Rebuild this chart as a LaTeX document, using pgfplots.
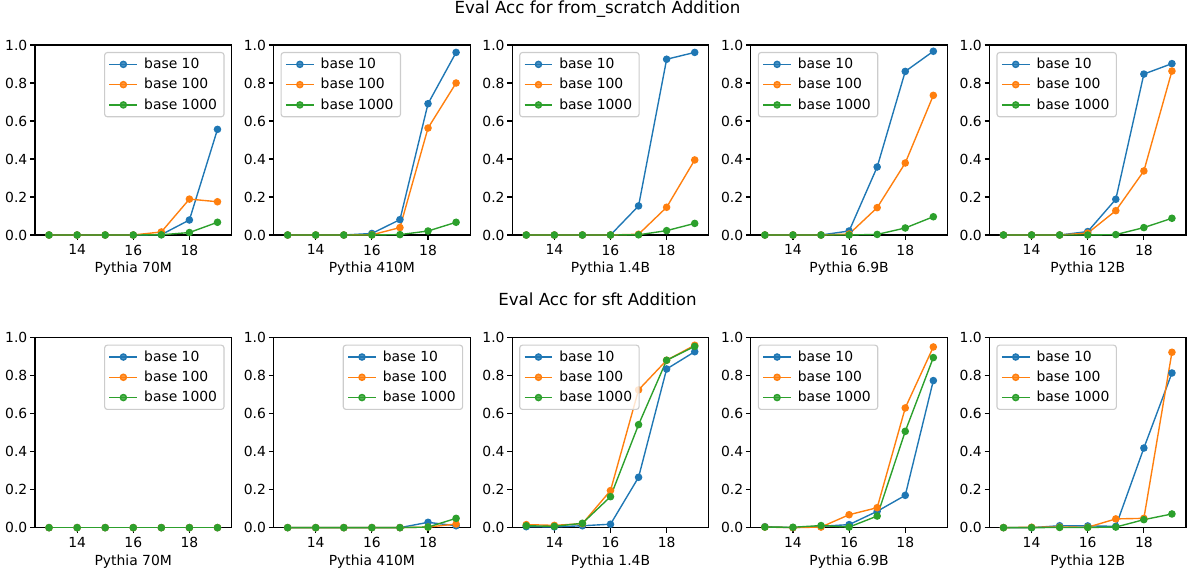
\documentclass[border=0pt]{standalone}
\usepackage{pgfplots}
\usepackage{pgfplotstable}
\pgfplotsset{compat=1.18}
\usepackage{fontspec}
\setmainfont{DejaVu Sans}
\definecolor{c1}{HTML}{1F77B4}
\definecolor{c2}{HTML}{FF7F0E}
\definecolor{c3}{HTML}{2CA02C}

% ---------- from_scratch ----------
\pgfplotstableread{
x b10 b100 b1000
13 0 0 0
14 0 0 0
15 0 0 0
16 0 0 0
17 0.002 0.016 0.001
18 0.079 0.189 0.013
19 0.556 0.175 0.067
}\tA
\pgfplotstableread{
x b10 b100 b1000
13 0 0 0
14 0 0 0
15 0 0 0
16 0.008 0.001 0
17 0.081 0.039 0.002
18 0.691 0.563 0.021
19 0.961 0.800 0.067
}\tB
\pgfplotstableread{
x b10 b100 b1000
13 0 0 0
14 0 0 0
15 0 0 0
16 0 0 0
17 0.153 0.004 0.001
18 0.925 0.146 0.023
19 0.961 0.395 0.061
}\tC
\pgfplotstableread{
x b10 b100 b1000
13 0 0 0
14 0 0 0
15 0 0 0
16 0.021 0.005 0
17 0.358 0.144 0.003
18 0.861 0.379 0.037
19 0.967 0.735 0.096
}\tD
\pgfplotstableread{
x b10 b100 b1000
13 0 0 0
14 0 0 0
15 0 0 0
16 0.018 0.010 0
17 0.188 0.128 0.002
18 0.847 0.337 0.039
19 0.902 0.863 0.088
}\tE
% ---------- sft ----------
\pgfplotstableread{
x b10 b100 b1000
13 0 0 0
14 0 0 0
15 0 0 0
16 0 0 0
17 0 0 0
18 0 0 0
19 0 0 0
}\tF
\pgfplotstableread{
x b10 b100 b1000
13 0 0 0
14 0 0 0
15 0 0 0
16 0 0 0
17 0 0 0
18 0.028 0.003 0.003
19 0.010 0.019 0.049
}\tG
\pgfplotstableread{
x b10 b100 b1000
13 0.005 0.016 0.010
14 0.004 0.012 0.007
15 0.010 0.021 0.023
16 0.018 0.195 0.163
17 0.265 0.725 0.542
18 0.835 0.881 0.881
19 0.926 0.960 0.954
}\tH
\pgfplotstableread{
x b10 b100 b1000
13 0.005 0.003 0.003
14 0 0 0.002
15 0.007 0.003 0.011
16 0.016 0.068 0.003
17 0.086 0.105 0.061
18 0.170 0.630 0.507
19 0.774 0.951 0.895
}\tI
\pgfplotstableread{
x b10 b100 b1000
13 0 0 0
14 0 0.002 0
15 0.010 0.003 0.001
16 0.009 0.002 0.001
17 0.007 0.046 0.003
18 0.419 0.049 0.042
19 0.814 0.923 0.072
}\tJ

\pgfplotsset{
  sub/.style={
    scale only axis, width=141.5pt, height=136.8pt,
    anchor=south west,
    xmin=12.5, xmax=19.5, ymin=0, ymax=1,
    xtick={14,16,18}, ytick={0,0.2,0.4,0.6,0.8,1.0},
    yticklabel style={/pgf/number format/fixed, /pgf/number format/fixed zerofill, /pgf/number format/precision=1, xshift=1.5pt},
    /pgf/number format/assume math mode=true,
    tick align=outside, tick pos=left, major tick length=3.5pt,
    tick style={black, line width=0.8pt},
    axis line style={line width=0.8pt, black},
    ticklabel style={font=\fontsize{10}{12}\selectfont, text=black},
    label style={font=\fontsize{10}{12}\selectfont, text=black},
    xlabel style={yshift=2pt},
    clip=false,
    legend cell align=left,
    legend image code/.code={\draw[mark repeat=2,mark phase=2,##1] plot coordinates {(0pt,0pt) (10pt,0pt) (20pt,0pt)};},
    legend style={font=\fontsize{10}{12}\selectfont, draw=black!20, rounded corners=2pt, fill=white, fill opacity=0.8, text opacity=1, inner xsep=3pt, inner ysep=2pt, row sep=1.5pt, line width=0.8pt, /tikz/every odd column/.append style={column sep=2.5pt}},
    every axis plot/.append style={line width=1pt, mark=*, mark size=2.2pt},
  },
  lr/.style={legend style={at={(1,1)}, anchor=north east, xshift=-5pt, yshift=-5pt}},
  ll/.style={legend style={at={(0,1)}, anchor=north west, xshift=5pt, yshift=-5pt}},
}

\newcommand{\sub}[5]{%
\begin{axis}[sub, #3, at={(#1,#2)}, xlabel={#4}]
\addplot[c1] table[x=x,y=b10]{#5};
\addplot[c2] table[x=x,y=b100]{#5};
\addplot[c3] table[x=x,y=b1000]{#5};
\legend{base 10, base 100, base 1000}
\end{axis}}

\begin{document}
\begin{tikzpicture}
\useasboundingbox (0,0) rectangle (858.24pt,410.4pt);
\node[anchor=base, font=\fontsize{12}{14}\selectfont] at (430.2pt,400.8pt) {Eval Acc for from\_scratch Addition};
\node[anchor=base, font=\fontsize{12}{14}\selectfont] at (430.2pt,190.3pt) {Eval Acc for sft Addition};
\sub{25.2pt}{241.2pt}{lr}{Pythia 70M}{\tA}
\sub{197.0pt}{241.2pt}{ll}{Pythia 410M}{\tB}
\sub{368.8pt}{241.2pt}{ll}{Pythia 1.4B}{\tC}
\sub{540.6pt}{241.2pt}{ll}{Pythia 6.9B}{\tD}
\sub{712.4pt}{241.2pt}{ll}{Pythia 12B}{\tE}
\sub{25.2pt}{30.5pt}{lr}{Pythia 70M}{\tF}
\sub{197.0pt}{30.5pt}{lr}{Pythia 410M}{\tG}
\sub{368.8pt}{30.5pt}{ll}{Pythia 1.4B}{\tH}
\sub{540.6pt}{30.5pt}{ll}{Pythia 6.9B}{\tI}
\sub{712.4pt}{30.5pt}{ll}{Pythia 12B}{\tJ}
\end{tikzpicture}
\end{document}
